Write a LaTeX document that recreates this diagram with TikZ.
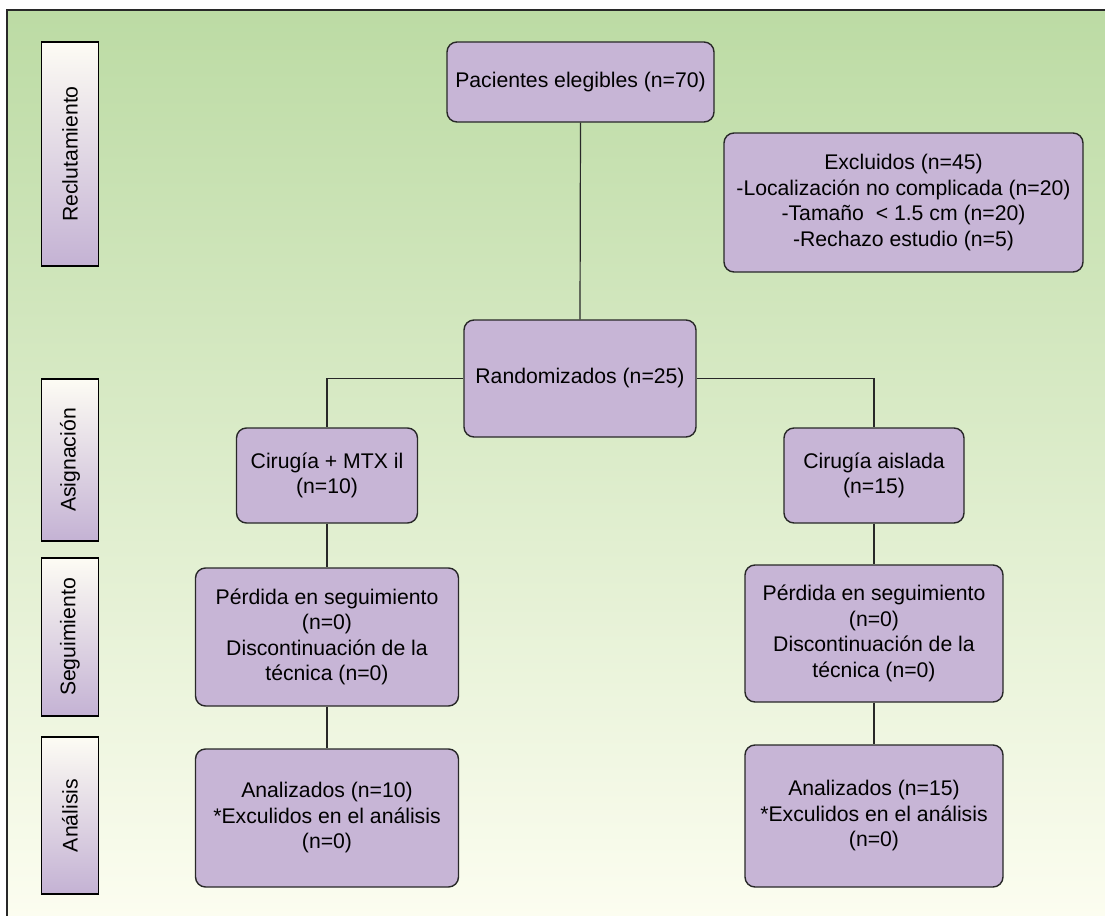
\documentclass[tikz,border=0pt]{standalone}
\usepackage{fontspec}
\setmainfont{Liberation Sans}
\usepackage{xcolor}
\usetikzlibrary{positioning}

\definecolor{bgtop}{RGB}{188,219,164}
\definecolor{bgbottom}{RGB}{252,253,240}
\definecolor{boxfill}{RGB}{199,181,214}
\definecolor{sidetop}{RGB}{253,252,244}
\definecolor{sidebottom}{RGB}{196,178,212}
\definecolor{edge}{RGB}{40,40,40}

\begin{document}
\begin{tikzpicture}[x=0.5pt, y=-0.5pt]
            % Block styles
            \tikzstyle{block} = [rectangle, rounded corners=5pt, draw=edge, line width=0.7pt, fill=boxfill, align=center, inner sep=2pt, font=\fontsize{10.6}{12.75}\selectfont]
            \tikzstyle{phase} = [rectangle, draw=black, line width=0.8pt, top color=sidetop, bottom color=sidebottom, minimum width=28.5pt, inner sep=0pt, font=\fontsize{10.6}{12.75}\selectfont]
            \tikzstyle{link} = [draw=edge, line width=0.6pt]

            % Background
            \useasboundingbox (0,0) rectangle (1105,916);
            \shade[top color=bgtop, bottom color=bgbottom] (7,10) rectangle (1105,916);
            \draw[edge, line width=1pt] (7,916) -- (7,10) -- (1105,10);

            % Phase labels
            \node[phase, minimum height=112pt] (recl) at (70,154) {\rotatebox{90}{Reclutamiento}};
            \node[phase, minimum height=81pt] (asig) at (70,460) {\rotatebox{90}{Asignación}};
            \node[phase, minimum height=79pt] (segu) at (70,637) {\rotatebox{90}{Seguimiento}};
            \node[phase, minimum height=78.5pt] (anal) at (70,815.5) {\rotatebox{90}{Análisis}};

            % Enrolment
            \node[block, minimum width=133.5pt, minimum height=40pt] (eligible) at (580.5,82) {Pacientes elegibles (n=70)};
            \node[block, minimum width=179.5pt, minimum height=69.5pt] (excluded) at (903.5,202.5) {Excluidos (n=45)\\-Localización no complicada (n=20)\\-Tamaño~\ < 1.5 cm (n=20)\\-Rechazo estudio (n=5)};
            \node[block, minimum width=116pt, minimum height=58.5pt] (random) at (580,378.5) {Randomizados (n=25)};

            % Allocation
            \node[block, minimum width=90.5pt, minimum height=47.5pt] (mtx) at (327,475.5) {Cirugía + MTX il\\(n=10)};
            \node[block, minimum width=90pt, minimum height=47.5pt] (alone) at (874,475.5) {Cirugía aislada\\(n=15)};

            % Follow-up
            \node[block, minimum width=131.5pt, minimum height=69pt] (lost_mtx) at (327,637) {Pérdida en seguimiento\\(n=0)\\Discontinuación de la\\técnica (n=0)};
            \node[block, minimum width=129pt, minimum height=68.5pt] (lost_alone) at (874,633.5) {Pérdida en seguimiento\\(n=0)\\Discontinuación de la\\técnica (n=0)};

            % Analysis
            \node[block, minimum width=131.5pt, minimum height=69pt] (anal_mtx) at (327,818) {Analizados (n=10)\\*Exculidos en el análisis\\(n=0)};
            \node[block, minimum width=129pt, minimum height=71pt] (anal_alone) at (874,816) {Analizados (n=15)\\*Exculidos en el análisis\\(n=0)};

            % Connections
            \draw[link] (eligible.south) -- (random.north);
            \draw[link] (random.west) -| (mtx.north);
            \draw[link] (random.east) -| (alone.north);
            \draw[link] (mtx) -- (lost_mtx);
            \draw[link] (lost_mtx) -- (anal_mtx);
            \draw[link] (alone) -- (lost_alone);
            \draw[link] (lost_alone) -- (anal_alone);
        \end{tikzpicture}
\end{document}
